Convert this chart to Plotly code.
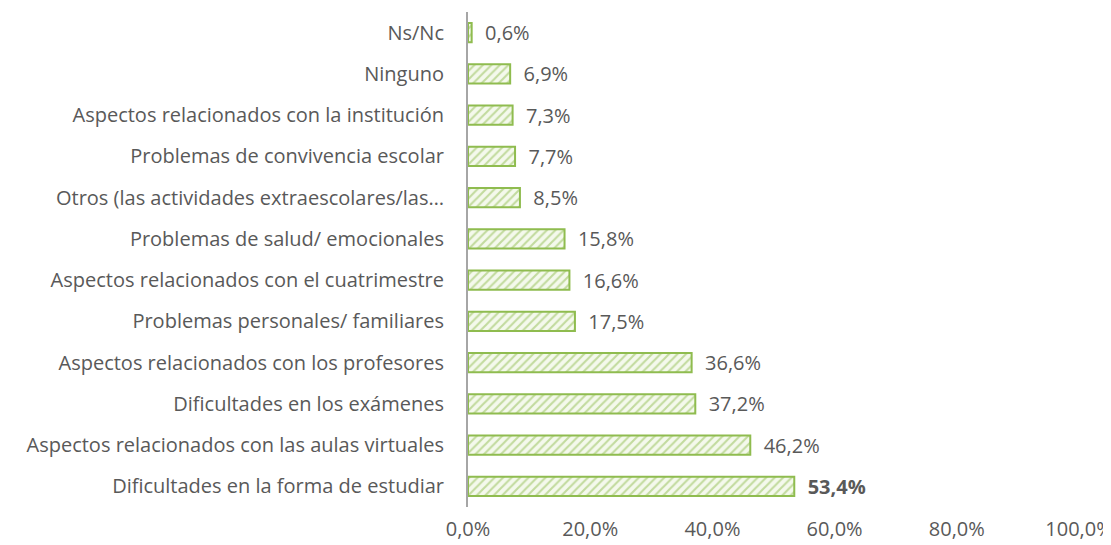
import plotly.graph_objects as go

categorias = [
    "Dificultades en la forma de estudiar",
    "Aspectos relacionados con las aulas virtuales",
    "Dificultades en los exámenes",
    "Aspectos relacionados con los profesores",
    "Problemas personales/ familiares",
    "Aspectos relacionados con el cuatrimestre",
    "Problemas de salud/ emocionales",
    "Otros (las actividades extraescolares/las…",
    "Problemas de convivencia escolar",
    "Aspectos relacionados con la institución",
    "Ninguno",
    "Ns/Nc",
]
porcentajes = [53.4, 46.2, 37.2, 36.6, 17.5, 16.6, 15.8, 8.5, 7.7, 7.3, 6.9, 0.6]
etiquetas = ["<b>53,4%</b>", "46,2%", "37,2%", "36,6%", "17,5%", "16,6%",
             "15,8%", "8,5%", "7,7%", "7,3%", "6,9%", "0,6%"]
ticks_x = [0, 20, 40, 60, 80, 100]
ticks_x_txt = ["0,0%", "20,0%", "40,0%", "60,0%", "80,0%", "100,0%"]

VERDE = "#8fbc4f"
GRIS = "#595959"
FUENTE = "Open Sans"
TAM = 20

fig = go.Figure()
fig.add_trace(go.Bar(
    x=porcentajes,
    y=categorias,
    orientation="h",
    text=["  " + e for e in etiquetas],
    textposition="outside",
    constraintext="none",
    textfont=dict(size=TAM, color=GRIS, family=FUENTE),
    cliponaxis=False,
    marker=dict(
        color="#eef5e3",
        line=dict(color=VERDE, width=2),
        pattern=dict(shape="/", fgcolor=VERDE, bgcolor="#f4f9ec", size=6, solidity=0.35),
    ),
    hoverinfo="skip",
))

fig.update_layout(
    width=1111,
    height=545,
    margin=dict(l=460, r=40, t=4, b=46),
    plot_bgcolor="white",
    paper_bgcolor="white",
    showlegend=False,
    bargap=0.53,
    font=dict(family=FUENTE, color=GRIS, size=TAM),
    xaxis=dict(
        range=[0, 100],
        tickvals=ticks_x,
        ticktext=ticks_x_txt,
        showgrid=False,
        zeroline=False,
        showline=False,
        tickfont=dict(size=TAM, color=GRIS),
        ticks="",
        ticklabelstandoff=8,
    ),
    yaxis=dict(
        showgrid=False,
        zeroline=False,
        showline=True,
        linecolor="#a6a6a6",
        linewidth=2,
        ticks="",
        ticklabelstandoff=18,
        tickfont=dict(size=TAM, color=GRIS),
    ),
)

fig.write_html("out.html")
